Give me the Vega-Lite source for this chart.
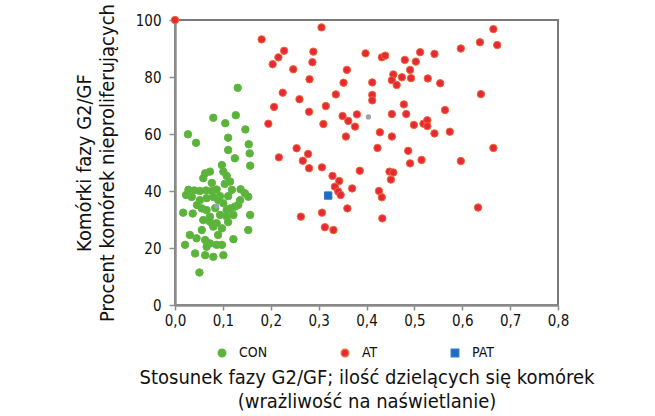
{
  "$schema": "https://vega.github.io/schema/vega-lite/v6.json",
  "width": 383,
  "height": 285,
  "autosize": {"type": "none"},
  "padding": {"left": 175, "top": 20, "right": 97, "bottom": 111},
  "background": "white",
  "datasets": {
    "points": [
      {"g":"CON","x":0.131,"y":76.2},{"g":"CON","x":0.080,"y":65.7},{"g":"CON","x":0.127,"y":66.6},{"g":"CON","x":0.105,"y":63.8},
      {"g":"CON","x":0.027,"y":59.9},{"g":"CON","x":0.044,"y":56.9},{"g":"CON","x":0.147,"y":61.6},{"g":"CON","x":0.111,"y":58.7},
      {"g":"CON","x":0.154,"y":56.4},{"g":"CON","x":0.111,"y":54.4},{"g":"CON","x":0.156,"y":53.2},{"g":"CON","x":0.125,"y":51.5},
      {"g":"CON","x":0.157,"y":48.9},{"g":"CON","x":0.098,"y":49.1},{"g":"CON","x":0.101,"y":46.8},{"g":"CON","x":0.063,"y":46.2},
      {"g":"CON","x":0.073,"y":46.8},{"g":"CON","x":0.059,"y":44.5},{"g":"CON","x":0.108,"y":45.3},{"g":"CON","x":0.115,"y":43.3},
      {"g":"CON","x":0.104,"y":42.5},{"g":"CON","x":0.028,"y":40.4},{"g":"CON","x":0.040,"y":40.2},{"g":"CON","x":0.052,"y":40.0},
      {"g":"CON","x":0.065,"y":40.2},{"g":"CON","x":0.077,"y":40.0},{"g":"CON","x":0.087,"y":40.5},{"g":"CON","x":0.137,"y":40.6},
      {"g":"CON","x":0.146,"y":39.2},{"g":"CON","x":0.153,"y":38.0},{"g":"CON","x":0.035,"y":37.9},{"g":"CON","x":0.052,"y":36.8},
      {"g":"CON","x":0.066,"y":37.5},{"g":"CON","x":0.080,"y":37.9},{"g":"CON","x":0.094,"y":38.2},{"g":"CON","x":0.111,"y":38.2},
      {"g":"CON","x":0.017,"y":32.4},{"g":"CON","x":0.037,"y":32.1},{"g":"CON","x":0.056,"y":33.9},{"g":"CON","x":0.066,"y":33.3},
      {"g":"CON","x":0.073,"y":31.0},{"g":"CON","x":0.059,"y":29.8},{"g":"CON","x":0.101,"y":35.7},{"g":"CON","x":0.108,"y":33.3},
      {"g":"CON","x":0.115,"y":33.9},{"g":"CON","x":0.125,"y":34.5},{"g":"CON","x":0.132,"y":35.1},{"g":"CON","x":0.094,"y":31.6},
      {"g":"CON","x":0.108,"y":31.0},{"g":"CON","x":0.122,"y":31.6},{"g":"CON","x":0.157,"y":31.6},{"g":"CON","x":0.073,"y":29.2},
      {"g":"CON","x":0.087,"y":28.7},{"g":"CON","x":0.098,"y":26.9},{"g":"CON","x":0.080,"y":27.5},{"g":"CON","x":0.056,"y":26.3},
      {"g":"CON","x":0.031,"y":24.6},{"g":"CON","x":0.045,"y":23.4},{"g":"CON","x":0.021,"y":21.1},{"g":"CON","x":0.153,"y":26.3},
      {"g":"CON","x":0.122,"y":23.1},{"g":"CON","x":0.063,"y":22.8},{"g":"CON","x":0.073,"y":21.6},{"g":"CON","x":0.087,"y":21.1},
      {"g":"CON","x":0.098,"y":21.1},{"g":"CON","x":0.042,"y":18.1},{"g":"CON","x":0.063,"y":17.5},{"g":"CON","x":0.080,"y":16.9},
      {"g":"CON","x":0.101,"y":17.5},{"g":"CON","x":0.066,"y":20.4},{"g":"CON","x":0.051,"y":11.4},{"g":"CON","x":0.090,"y":36.8},
      {"g":"CON","x":0.046,"y":35.1},{"g":"CON","x":0.084,"y":34.0},{"g":"CON","x":0.090,"y":24.6},{"g":"CON","x":0.111,"y":29.1},
      {"g":"CON","x":0.136,"y":36.8},{"g":"CON","x":0.023,"y":38.6},{"g":"CON","x":0.077,"y":42.8},{"g":"CON","x":0.119,"y":40.4},
      {"g":"AT","x":0.000,"y":100.0},{"g":"AT","x":0.181,"y":93.2},{"g":"AT","x":0.306,"y":97.4},{"g":"AT","x":0.228,"y":89.2},
      {"g":"AT","x":0.216,"y":86.9},{"g":"AT","x":0.204,"y":84.5},{"g":"AT","x":0.247,"y":82.7},{"g":"AT","x":0.289,"y":88.9},
      {"g":"AT","x":0.287,"y":85.2},{"g":"AT","x":0.281,"y":79.2},{"g":"AT","x":0.225,"y":74.5},{"g":"AT","x":0.260,"y":72.2},
      {"g":"AT","x":0.207,"y":69.5},{"g":"AT","x":0.280,"y":67.8},{"g":"AT","x":0.315,"y":69.8},{"g":"AT","x":0.336,"y":73.9},
      {"g":"AT","x":0.352,"y":78.0},{"g":"AT","x":0.359,"y":82.5},{"g":"AT","x":0.195,"y":63.6},{"g":"AT","x":0.310,"y":63.5},
      {"g":"AT","x":0.350,"y":66.3},{"g":"AT","x":0.362,"y":64.6},{"g":"AT","x":0.376,"y":62.6},{"g":"AT","x":0.357,"y":59.1},
      {"g":"AT","x":0.380,"y":66.9},{"g":"AT","x":0.254,"y":55.0},{"g":"AT","x":0.278,"y":53.0},{"g":"AT","x":0.267,"y":50.6},
      {"g":"AT","x":0.217,"y":51.8},{"g":"AT","x":0.280,"y":48.0},{"g":"AT","x":0.307,"y":48.3},{"g":"AT","x":0.329,"y":45.3},
      {"g":"AT","x":0.343,"y":43.5},{"g":"AT","x":0.334,"y":41.5},{"g":"AT","x":0.341,"y":39.8},{"g":"AT","x":0.346,"y":38.6},
      {"g":"AT","x":0.370,"y":40.9},{"g":"AT","x":0.360,"y":33.9},{"g":"AT","x":0.307,"y":32.4},{"g":"AT","x":0.263,"y":31.0},
      {"g":"AT","x":0.313,"y":27.3},{"g":"AT","x":0.331,"y":26.3},{"g":"AT","x":0.386,"y":47.1},{"g":"AT","x":0.665,"y":96.8},
      {"g":"AT","x":0.637,"y":92.2},{"g":"AT","x":0.673,"y":91.2},{"g":"AT","x":0.597,"y":90.0},{"g":"AT","x":0.542,"y":88.1},
      {"g":"AT","x":0.512,"y":88.7},{"g":"AT","x":0.503,"y":85.4},{"g":"AT","x":0.480,"y":86.0},{"g":"AT","x":0.432,"y":86.9},
      {"g":"AT","x":0.439,"y":87.5},{"g":"AT","x":0.398,"y":88.3},{"g":"AT","x":0.412,"y":78.1},{"g":"AT","x":0.491,"y":82.5},
      {"g":"AT","x":0.456,"y":80.9},{"g":"AT","x":0.453,"y":78.9},{"g":"AT","x":0.463,"y":77.2},{"g":"AT","x":0.474,"y":79.9},
      {"g":"AT","x":0.493,"y":79.6},{"g":"AT","x":0.528,"y":79.5},{"g":"AT","x":0.554,"y":77.8},{"g":"AT","x":0.412,"y":73.7},
      {"g":"AT","x":0.412,"y":71.8},{"g":"AT","x":0.639,"y":74.0},{"g":"AT","x":0.478,"y":70.4},{"g":"AT","x":0.564,"y":68.4},
      {"g":"AT","x":0.453,"y":67.0},{"g":"AT","x":0.483,"y":67.0},{"g":"AT","x":0.499,"y":63.2},{"g":"AT","x":0.519,"y":63.6},
      {"g":"AT","x":0.527,"y":64.8},{"g":"AT","x":0.527,"y":62.8},{"g":"AT","x":0.542,"y":60.2},{"g":"AT","x":0.574,"y":60.8},
      {"g":"AT","x":0.428,"y":60.6},{"g":"AT","x":0.453,"y":59.1},{"g":"AT","x":0.423,"y":55.1},{"g":"AT","x":0.487,"y":54.1},
      {"g":"AT","x":0.665,"y":55.1},{"g":"AT","x":0.515,"y":50.9},{"g":"AT","x":0.597,"y":50.5},{"g":"AT","x":0.491,"y":49.7},
      {"g":"AT","x":0.448,"y":46.8},{"g":"AT","x":0.456,"y":46.5},{"g":"AT","x":0.451,"y":44.0},{"g":"AT","x":0.426,"y":40.0},
      {"g":"AT","x":0.432,"y":37.8},{"g":"AT","x":0.433,"y":30.4},{"g":"AT","x":0.633,"y":34.2},
      {"g":"PAT","x":0.320,"y":38.4}
    ],
    "means": [
      {"g":"CON","x":0.087,"y":34.7},
      {"g":"AT","x":0.404,"y":66.0}
    ]
  },
  "layer": [
    {
      "data": {"name": "points"},
      "mark": {"type": "point", "filled": true, "opacity": 1, "strokeWidth": 1, "strokeOpacity": 1},
      "encoding": {
        "x": {
          "field": "x", "type": "quantitative",
          "scale": {"domain": [0, 0.8], "nice": false, "zero": false},
          "axis": {
            "values": [0, 0.1, 0.2, 0.3, 0.4, 0.5, 0.6, 0.7, 0.8],
            "labelExpr": "replace(format(datum.value, '.1f'), '.', ',')",
            "grid": false,
            "tickSize": 5,
            "labelPadding": 3,
            "labelFontSize": 15,
            "title": ["Stosunek fazy G2/GF; ilość dzielących się komórek", "(wrażliwość na naświetlanie)"],
            "titleFontSize": 20,
            "titleLineHeight": 24,
            "titlePadding": 39
          }
        },
        "y": {
          "field": "y", "type": "quantitative",
          "scale": {"domain": [0, 100], "nice": false},
          "axis": {
            "values": [0, 10, 20, 30, 40, 50, 60, 70, 80, 90, 100],
            "labelExpr": "datum.value % 20 == 0 ? datum.label : ''",
            "grid": false,
            "tickSize": 6,
            "labelPadding": 8,
            "labelFontSize": 15,
            "title": ["Komórki fazy G2/GF", "Procent komórek nieproliferujących"],
            "titleFontSize": 20,
            "titleLineHeight": 23,
            "titlePadding": 18
          }
        },
        "color": {
          "field": "g", "type": "nominal",
          "scale": {"domain": ["CON", "AT", "PAT"], "range": ["#5bb33b", "#e5283a", "#1f6cc4"]},
          "legend": {"title": null}
        },
        "stroke": {
          "field": "g", "type": "nominal",
          "scale": {"domain": ["CON", "AT", "PAT"], "range": ["#5fb740", "#ee6a30", "#2a78cc"]},
          "legend": {"title": null}
        },
        "shape": {
          "field": "g", "type": "nominal",
          "scale": {"domain": ["CON", "AT", "PAT"], "range": ["circle", "circle", "square"]},
          "legend": {"title": null}
        },
        "size": {
          "field": "g", "type": "nominal",
          "scale": {"domain": ["CON", "AT", "PAT"], "range": [56, 54, 115]},
          "legend": {"title": null}
        }
      }
    },
    {
      "data": {"name": "means"},
      "mark": {"type": "point", "filled": true, "color": "#9aa2ad", "size": 28, "opacity": 1},
      "encoding": {
        "x": {"field": "x", "type": "quantitative"},
        "y": {"field": "y", "type": "quantitative"}
      }
    }
  ],
  "config": {
    "font": "DejaVu Sans Condensed, Roboto, sans-serif",
    "view": {"stroke": "#7a7a7a", "strokeWidth": 2},
    "axis": {
      "labelFlush": false,
      "domainColor": "#8c8c8c",
      "domainWidth": 2.5,
      "tickColor": "#8c8c8c",
      "tickWidth": 1.5,
      "labelColor": "#111111",
      "labelFont": "DejaVu Sans Condensed, Roboto, sans-serif",
      "titleFont": "DejaVu Sans Condensed, Roboto, sans-serif",
      "titleColor": "#111111",
      "titleFontWeight": "normal"
    },
    "legend": {
      "orient": "none",
      "legendX": 40,
      "legendY": 326,
      "direction": "horizontal",
      "columnPadding": 70,
      "labelFontSize": 14,
      "labelColor": "#111111",
      "labelFont": "DejaVu Sans Condensed, Roboto, sans-serif",
      "labelOffset": 10
    }
  }
}
